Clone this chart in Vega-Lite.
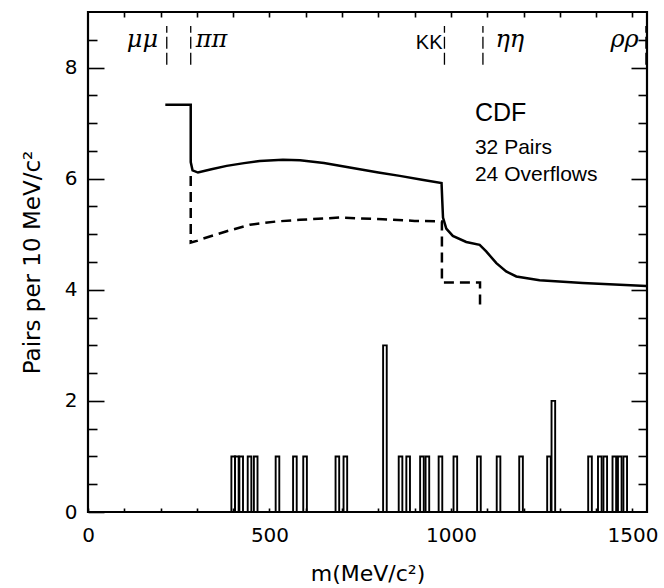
{
  "$schema": "https://vega.github.io/schema/vega-lite/v6.json",
  "width": 559,
  "height": 500,
  "autosize": {"type": "none"},
  "padding": {"left": 88, "top": 12, "right": 17, "bottom": 76},
  "background": "white",
  "config": {
    "view": {"stroke": "black", "strokeWidth": 2.2},
    "font": "DejaVu Sans",
    "axis": {
      "domain": false, "grid": false, "tickColor": "black", "tickWidth": 1.6,
      "labelColor": "black", "titleColor": "black",
      "labelFont": "DejaVu Sans", "titleFont": "DejaVu Sans",
      "labelFontSize": 20, "titleFontSize": 22, "titleFontWeight": "normal"
    }
  },
  "datasets": {
    "hist": [
      {"lo": 395, "hi": 405, "n": 1}, {"lo": 405, "hi": 415, "n": 1}, {"lo": 417, "hi": 427, "n": 1},
      {"lo": 440, "hi": 450, "n": 1}, {"lo": 457, "hi": 467, "n": 1}, {"lo": 517, "hi": 527, "n": 1},
      {"lo": 565, "hi": 575, "n": 1}, {"lo": 593, "hi": 603, "n": 1}, {"lo": 682, "hi": 692, "n": 1},
      {"lo": 704, "hi": 714, "n": 1}, {"lo": 813, "hi": 823, "n": 3}, {"lo": 856, "hi": 866, "n": 1},
      {"lo": 877, "hi": 887, "n": 1}, {"lo": 915, "hi": 925, "n": 1}, {"lo": 930, "hi": 940, "n": 1},
      {"lo": 966, "hi": 976, "n": 1}, {"lo": 1007, "hi": 1017, "n": 1}, {"lo": 1072, "hi": 1082, "n": 1},
      {"lo": 1126, "hi": 1136, "n": 1}, {"lo": 1188, "hi": 1198, "n": 1}, {"lo": 1265, "hi": 1275, "n": 1},
      {"lo": 1277, "hi": 1287, "n": 2}, {"lo": 1378, "hi": 1388, "n": 1}, {"lo": 1405, "hi": 1415, "n": 1},
      {"lo": 1420, "hi": 1430, "n": 1}, {"lo": 1445, "hi": 1455, "n": 1}, {"lo": 1460, "hi": 1470, "n": 1},
      {"lo": 1475, "hi": 1485, "n": 1}
    ],
    "solid": [
      {"i": 1, "m": 213, "v": 7.33}, {"i": 2, "m": 283, "v": 7.33}, {"i": 3, "m": 283, "v": 6.3},
      {"i": 4, "m": 288, "v": 6.15}, {"i": 5, "m": 303, "v": 6.11}, {"i": 6, "m": 340, "v": 6.17},
      {"i": 7, "m": 382, "v": 6.23}, {"i": 8, "m": 430, "v": 6.28}, {"i": 9, "m": 473, "v": 6.32},
      {"i": 10, "m": 537, "v": 6.34}, {"i": 11, "m": 584, "v": 6.33}, {"i": 12, "m": 650, "v": 6.28},
      {"i": 13, "m": 721, "v": 6.2}, {"i": 14, "m": 800, "v": 6.11}, {"i": 15, "m": 859, "v": 6.05},
      {"i": 16, "m": 920, "v": 5.98}, {"i": 17, "m": 974, "v": 5.92}, {"i": 18, "m": 976, "v": 5.6},
      {"i": 19, "m": 978, "v": 5.3}, {"i": 20, "m": 987, "v": 5.1}, {"i": 21, "m": 1005, "v": 4.97},
      {"i": 22, "m": 1042, "v": 4.86}, {"i": 23, "m": 1079, "v": 4.81}, {"i": 24, "m": 1097, "v": 4.69},
      {"i": 25, "m": 1125, "v": 4.48}, {"i": 26, "m": 1152, "v": 4.33}, {"i": 27, "m": 1180, "v": 4.24},
      {"i": 28, "m": 1244, "v": 4.17}, {"i": 29, "m": 1363, "v": 4.12}, {"i": 30, "m": 1538, "v": 4.07}
    ],
    "dashed": [
      {"i": 1, "m": 283, "v": 6.05}, {"i": 2, "m": 283, "v": 4.85}, {"i": 3, "m": 300, "v": 4.88},
      {"i": 4, "m": 317, "v": 4.92}, {"i": 5, "m": 380, "v": 5.05}, {"i": 6, "m": 446, "v": 5.17},
      {"i": 7, "m": 520, "v": 5.23}, {"i": 8, "m": 584, "v": 5.26}, {"i": 9, "m": 694, "v": 5.3},
      {"i": 10, "m": 812, "v": 5.27}, {"i": 11, "m": 900, "v": 5.24}, {"i": 12, "m": 975, "v": 5.23},
      {"i": 13, "m": 975, "v": 4.13}, {"i": 14, "m": 1080, "v": 4.13}, {"i": 15, "m": 1080, "v": 3.73}
    ],
    "thresholds": [
      {"m": 217}, {"m": 283}, {"m": 982}, {"m": 1088}, {"m": 1537}
    ],
    "pairs": [
      {"label": "μμ", "m": 150},
      {"label": "ππ", "m": 340},
      {"label": "ηη", "m": 1162},
      {"label": "ρρ", "m": 1478}
    ],
    "notes": [
      {"label": "CDF", "m": 1066, "v": 7.18, "size": "big"},
      {"label": "32 Pairs", "m": 1066, "v": 6.56, "size": "small"},
      {"label": "24 Overflows", "m": 1066, "v": 6.07, "size": "small"}
    ],
    "kk": [
      {"label": "KK", "m": 940}
    ]
  },
  "layer": [
    {
      "data": {"name": "hist"},
      "mark": {"type": "bar", "fill": "white", "fillOpacity": 0, "stroke": "black", "strokeWidth": 1.9},
      "encoding": {
        "x": {
          "field": "lo", "type": "quantitative",
          "scale": {"domain": [0, 1540], "nice": false},
          "axis": {
            "orient": "bottom", "title": "m(MeV/c²)", "titlePadding": 18,
            "values": [0, 100, 200, 300, 400, 500, 600, 700, 800, 900, 1000, 1100, 1200, 1300, 1400, 1500],
            "labelExpr": "datum.value % 500 === 0 ? datum.label : ''",
            "format": "d", "tickSize": -4, "labelPadding": 17, "labelFlush": false
          }
        },
        "x2": {"field": "hi"},
        "y": {
          "field": "n", "type": "quantitative",
          "scale": {"domain": [0, 9], "nice": false},
          "axis": {
            "orient": "left", "title": "Pairs per 10 MeV/c²", "titlePadding": 20, "titleFontSize": 23,
            "values": [0, 0.5, 1, 1.5, 2, 2.5, 3, 3.5, 4, 4.5, 5, 5.5, 6, 6.5, 7, 7.5, 8, 8.5],
            "labelExpr": "datum.value % 2 === 0 ? format(datum.value, 'd') : ''",
            "tickSize": {"condition": {"test": "datum.value % 2 === 0", "value": -16}, "value": -9},
            "labelPadding": 27, "labelFlush": false
          }
        },
        "y2": {"datum": 0}
      }
    },
    {
      "data": {"name": "solid"},
      "mark": {"type": "line", "color": "black", "strokeWidth": 2.5, "interpolate": "linear"},
      "encoding": {
        "x": {"field": "m", "type": "quantitative", "scale": {"domain": [0, 1540], "nice": false}, "axis": null},
        "y": {"field": "v", "type": "quantitative", "scale": {"domain": [0, 9], "nice": false}, "axis": null},
        "order": {"field": "i"}
      }
    },
    {
      "data": {"name": "dashed"},
      "mark": {"type": "line", "color": "black", "strokeWidth": 2.5, "strokeDash": [10, 6]},
      "encoding": {
        "x": {"field": "m", "type": "quantitative", "scale": {"domain": [0, 1540], "nice": false}, "axis": null},
        "y": {"field": "v", "type": "quantitative", "scale": {"domain": [0, 9], "nice": false}, "axis": null},
        "order": {"field": "i"}
      }
    },
    {
      "data": {"name": "thresholds"},
      "mark": {"type": "rule", "color": "black", "strokeWidth": 1.3, "strokeDash": [12, 4]},
      "encoding": {
        "x": {
          "field": "m", "type": "quantitative", "scale": {"domain": [0, 1540], "nice": false},
          "axis": {
            "orient": "top", "title": null, "labels": false, "tickSize": -5,
            "values": [100, 200, 300, 400, 500, 600, 700, 800, 900, 1000, 1100, 1200, 1300, 1400, 1500]
          }
        },
        "y": {
          "datum": 8.05, "type": "quantitative", "scale": {"domain": [0, 9], "nice": false},
          "axis": {
            "orient": "right", "title": null, "labels": false,
            "values": [0.5, 1, 1.5, 2, 2.5, 3, 3.5, 4, 4.5, 5, 5.5, 6, 6.5, 7, 7.5, 8, 8.5],
            "tickSize": {"condition": {"test": "datum.value % 2 === 0", "value": -16}, "value": -9}
          }
        },
        "y2": {"datum": 8.75}
      }
    },
    {
      "data": {"name": "pairs"},
      "mark": {"type": "text", "font": "DejaVu Serif", "fontStyle": "italic", "fontSize": 24, "color": "black", "baseline": "middle"},
      "encoding": {
        "x": {"field": "m", "type": "quantitative", "scale": {"domain": [0, 1540], "nice": false}, "axis": null},
        "y": {"datum": 8.5, "type": "quantitative", "scale": {"domain": [0, 9], "nice": false}, "axis": null},
        "text": {"field": "label"}
      }
    },
    {
      "data": {"name": "kk"},
      "mark": {"type": "text", "font": "Liberation Sans", "fontSize": 20, "color": "black", "baseline": "middle"},
      "encoding": {
        "x": {"field": "m", "type": "quantitative", "scale": {"domain": [0, 1540], "nice": false}, "axis": null},
        "y": {"datum": 8.45, "type": "quantitative", "scale": {"domain": [0, 9], "nice": false}, "axis": null},
        "text": {"field": "label"}
      }
    },
    {
      "data": {"name": "notes"},
      "mark": {"type": "text", "font": "Liberation Sans", "color": "black", "align": "left", "baseline": "middle"},
      "encoding": {
        "x": {"field": "m", "type": "quantitative", "scale": {"domain": [0, 1540], "nice": false}, "axis": null},
        "y": {"field": "v", "type": "quantitative", "scale": {"domain": [0, 9], "nice": false}, "axis": null},
        "text": {"field": "label"},
        "size": {"field": "size", "type": "nominal", "scale": {"domain": ["big", "small"], "range": [25, 21]}, "legend": null}
      }
    }
  ],
  "resolve": {"axis": {"x": "independent", "y": "independent"}}
}
